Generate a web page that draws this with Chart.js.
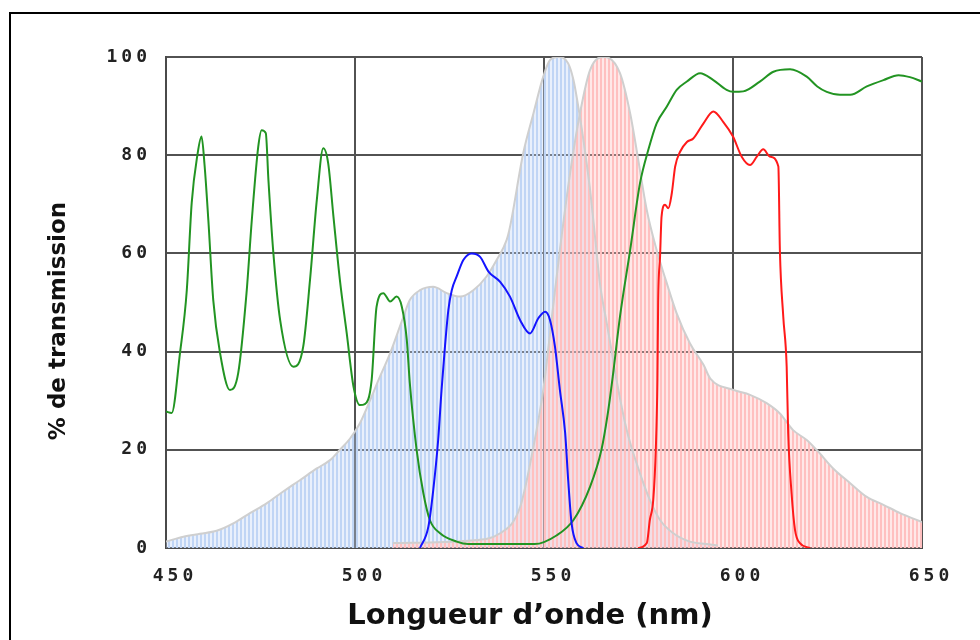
<!DOCTYPE html>
<html>
<head>
<meta charset="utf-8">
<script src="https://cdn.jsdelivr.net/npm/chart.js@4.4.1/dist/chart.umd.min.js"></script>
<style>
  html, body { margin: 0; padding: 0; background: #fff; overflow: hidden; }
  #wrap { position: relative; width: 980px; height: 640px; }
  #frame {
    position: absolute; left: 9px; top: 12px; width: 1000px; height: 700px;
    border-left: 2px solid #000; border-top: 2px solid #000; pointer-events: none;
  }
  .axis-title {
    position: absolute; font-family: 'DejaVu Sans', sans-serif; font-weight: bold;
    color: #111; white-space: nowrap;
  }
  #xTitle { left: 530px; top: 614px; font-size: 29px; transform: translate(-50%, -50%); }
  #yTitle { left: 57px; top: 321px; font-size: 23px; transform: translate(-50%, -50%) rotate(-90deg); }
</style>
</head>
<body>
<div id="wrap">
  <canvas id="spectra" width="980" height="640"></canvas>
  <div id="frame"></div>
  <div class="axis-title" id="yTitle">% de transmission</div>
  <div class="axis-title" id="xTitle">Longueur d’onde (nm)</div>
</div>
<script>
// Longueurs d'onde (nm) et transmissions (%) de chaque courbe
const xTicks = [450, 500, 550, 600, 650];
const yTicks = [0, 20, 40, 60, 80, 100];

// Filtre vert (pics d'interférence puis passe-haut)
const greenNm = [450, 451.5, 453.7, 455.5, 456.8, 458.3, 459.4, 460.2, 461.2, 462.5, 464.3, 466.9, 469.1, 471.3, 472.7, 474.4, 475.3, 476.4, 477.1, 478.4, 480.2, 483.7, 486.3, 488.1, 489.9, 491.6, 492.9, 494.3, 496, 497.8, 499.6, 501.3, 502.6, 504.4, 505.7, 507.5, 509.3, 511, 512.4, 513.7, 514.5, 516.3, 518.1, 519.8, 522.5, 526.9, 530, 547.5, 553.4, 557.8, 562.2, 565.2, 566.8, 568.2, 570.1, 572.8, 575.4, 577.6, 579.8, 582.5, 585.1, 587.8, 591.3, 594.8, 598.3, 600, 602.7, 607.1, 610.7, 615.1, 619.5, 622.3, 624.8, 628.3, 631, 635.4, 639.8, 643.8, 646.8, 650];
const greenT = [27.8, 27.5, 39.7, 52.5, 70.3, 80, 83.8, 78, 66.8, 50.5, 39.7, 32.2, 35.6, 51.9, 66.8, 81.7, 85.1, 84.5, 74.9, 60.1, 46.4, 36.9, 41, 54.6, 70.9, 81.4, 78.4, 67.5, 54.6, 43.8, 32.9, 29.1, 29.3, 34.2, 49.1, 51.9, 50.2, 51.2, 49.1, 42.4, 33.6, 20, 11.1, 5.7, 3.0, 1.3, 0.8, 0.8, 2.6, 5.7, 12.5, 20, 27, 35, 47.1, 60.7, 74.3, 81.1, 86.5, 89.9, 93.3, 95.0, 96.7, 95.3, 93.3, 92.9, 93, 95, 97, 97.5, 96, 94, 92.9, 92.3, 92.3, 94, 95.3, 96.3, 95.9, 95.0];

// Filtre bleu
const blueNm = [517.2, 519.4, 520.7, 522, 522.9, 523.8, 524.7, 525.6, 526.9, 528.7, 530.9, 533.1, 535.3, 538.4, 541, 543.7, 546.3, 548.5, 550.3, 551.6, 552.9, 554.2, 555.6, 556.4, 557.3, 558.6, 560.4];
const blueT = [0, 4.3, 11.8, 22, 32.2, 41, 48.5, 52.5, 55.3, 58.7, 60, 59.3, 56.3, 54.2, 51.2, 46.4, 43.7, 46.8, 48.1, 46.4, 41, 32.2, 23.4, 13.8, 5, 1, 0];

// Filtre rouge
const redNm = [574.9, 577.2, 578, 578.9, 579.6, 580, 580.2, 580.7, 581.1, 582, 582.9, 583.8, 584.7, 586, 587.8, 589.5, 592.2, 594.8, 597.4, 600, 602.3, 604.5, 606.3, 608, 609.8, 612, 612.4, 613.3, 614.2, 614.6, 615.5, 616.4, 617.7, 620.4];
const redT = [0, 1, 5.7, 9.8, 20.6, 34, 50, 59.3, 67.5, 69.9, 69.2, 72.2, 77.7, 80.7, 82.7, 83.4, 86.5, 88.9, 86.8, 83.8, 79.7, 78, 79.7, 81.2, 79.7, 77.7, 60.7, 47.1, 36.9, 23.4, 11.1, 3.7, 1, 0];

// Spectre d'émission bleu-vert (zone hachurée bleue)
const emBlueNm = [450, 454.6, 459, 463.4, 467.8, 472.2, 476.6, 481, 485.4, 489.9, 493.4, 496, 498.7, 501.3, 504, 506.2, 509.3, 512.8, 514.5, 517.2, 520.7, 524.3, 527.8, 531.3, 534.8, 537.5, 540.1, 541, 544.5, 547.2, 549.8, 551.6, 553.8, 556.4, 557.8, 559.5, 560.8, 562.2, 563.5, 564.8, 566.6, 568.3, 569.2, 571.9, 575.4, 578, 580.7, 584.2, 588.6, 593, 596];
const emBlueT = [1.3, 2.3, 2.9, 3.5, 5, 7.1, 9.1, 11.5, 13.8, 16.2, 17.9, 20, 22.3, 25.4, 30.1, 34.2, 39.7, 47.1, 50.5, 52.5, 53.2, 51.9, 51.2, 52.5, 55.3, 58.7, 62.7, 65.4, 80.4, 88.5, 96, 99.4, 100, 98.7, 95.3, 87.8, 81.1, 72.9, 63.4, 53.9, 45.8, 38.3, 34.2, 24, 15.2, 9.8, 5.7, 3, 1.3, 0.8, 0.5];

// Spectre d'émission rouge (zone hachurée rose)
const emRedNm = [510, 530, 538.4, 543.7, 547.2, 549.8, 552.4, 554.2, 556.9, 559.5, 562.2, 566.1, 570.1, 572.8, 574.5, 577.2, 579.8, 582.5, 585.1, 588.6, 592.2, 594, 600.1, 604.5, 608.9, 612.4, 615.9, 619.5, 622.1, 626.5, 631, 635.4, 639.8, 644.2, 650];
const emRedT = [1, 1.5, 3, 8.4, 20.6, 32.2, 49.1, 60.7, 76.3, 88.5, 97.4, 100, 96.7, 88.5, 81.1, 68.8, 60.7, 53.9, 47.8, 41.7, 37.3, 34.5, 32.2, 31.2, 29.5, 27.4, 24, 22, 20, 16.2, 13.2, 10.4, 8.8, 7.1, 5.3];

function toPoints(xs, ys) {
    return xs.map((x, i) => ({ x: x, y: ys[i] }));
}

// Hachures verticales pour les zones remplies
function stripes(dark, light) {
    const c = document.createElement('canvas');
    c.width = 4;
    c.height = 1;
    const g = c.getContext('2d');
    g.fillStyle = dark;
    g.fillRect(0, 0, 2, 1);
    g.fillStyle = light;
    g.fillRect(2, 0, 2, 1);
    return g.createPattern(c, 'repeat');
}

const blueStripes = stripes('rgb(192, 213, 245)', 'rgba(192, 213, 245, 0.35)');
const redStripes = stripes('rgb(255, 192, 192)', 'rgba(255, 190, 190, 0.35)');

// Espacement des chiffres des graduations
const tickSpacing = {
    id: 'tickSpacing',
    beforeDraw(chart) { chart.ctx.letterSpacing = '4px'; },
    afterDraw(chart) { chart.ctx.letterSpacing = '0px'; }
};

const lineDefaults = {
    pointRadius: 0,
    borderWidth: 2,
    fill: false,
    cubicInterpolationMode: 'monotone'
};

new Chart(document.getElementById('spectra').getContext('2d'), {
    type: 'line',
    data: {
        datasets: [
            { ...lineDefaults, label: 'Filtre rouge', data: toPoints(redNm, redT), borderColor: '#ff1a1a' },
            { ...lineDefaults, label: 'Filtre bleu', data: toPoints(blueNm, blueT), borderColor: '#1414ff' },
            { ...lineDefaults, label: 'Filtre vert', data: toPoints(greenNm, greenT), borderColor: '#229422' },
            { ...lineDefaults, label: 'Émission rouge', data: toPoints(emRedNm, emRedT), borderColor: '#cfcfcf', backgroundColor: redStripes, fill: 'origin' },
            { ...lineDefaults, label: 'Émission bleue', data: toPoints(emBlueNm, emBlueT), borderColor: '#cfcfcf', backgroundColor: blueStripes, fill: 'origin' }
        ]
    },
    options: {
        responsive: false,
        animation: false,
        layout: { padding: { left: 0, top: 57, right: 58, bottom: 0 } },
        plugins: {
            legend: { display: false },
            tooltip: { enabled: false },
            filler: { drawTime: 'beforeDatasetsDraw' }
        },
        scales: {
            x: {
                type: 'linear',
                min: 450,
                max: 650,
                afterFit: (scale) => { scale.height = 92; },
                afterBuildTicks: (scale) => { scale.ticks = xTicks.map(v => ({ value: v })); },
                grid: { color: '#525252', lineWidth: 2, drawTicks: false },
                border: { color: '#4a4a4a', width: 2 },
                ticks: {
                    padding: 18,
                    labelOffset: 9,
                    color: '#222',
                    font: { family: 'DejaVu Sans Mono', weight: 'bold', size: 18 }
                }
            },
            y: {
                min: 0,
                max: 100,
                afterFit: (scale) => { scale.width = 166; },
                afterBuildTicks: (scale) => { scale.ticks = yTicks.map(v => ({ value: v })); },
                grid: { color: '#525252', lineWidth: 2, drawTicks: false },
                border: { color: '#4a4a4a', width: 2 },
                ticks: {
                    padding: 15,
                    color: '#222',
                    font: { family: 'DejaVu Sans Mono', weight: 'bold', size: 18 }
                }
            }
        }
    },
    plugins: [tickSpacing]
});
</script>
</body>
</html>
